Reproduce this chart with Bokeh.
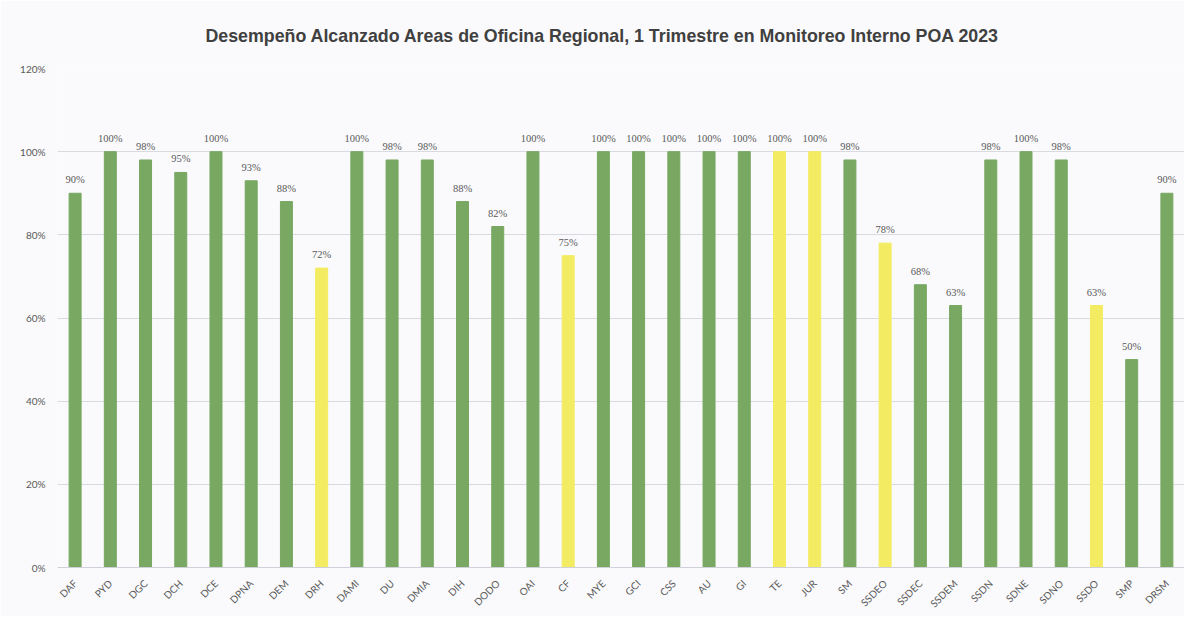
import math
from bokeh.plotting import figure
from bokeh.models import ColumnDataSource, FactorRange, NumeralTickFormatter, LabelSet, Range1d, FixedTicker
from bokeh.embed import file_html
from bokeh.resources import INLINE

areas = ["DAF", "PYD", "DGC", "DCH", "DCE", "DPNA", "DEM", "DRH", "DAMI", "DU", "DMIA",
         "DIH", "DODO", "OAI", "CF", "MYE", "GCI", "CSS", "AU", "GI", "TE", "JUR", "SM",
         "SSDEO", "SSDEC", "SSDEM", "SSDN", "SDNE", "SDNO", "SSDO", "SMP", "DRSM"]
desempeno = [0.90, 1.00, 0.98, 0.95, 1.00, 0.93, 0.88, 0.72, 1.00, 0.98, 0.98,
             0.88, 0.82, 1.00, 0.75, 1.00, 1.00, 1.00, 1.00, 1.00, 1.00, 1.00, 0.98,
             0.78, 0.68, 0.63, 0.98, 1.00, 0.98, 0.63, 0.50, 0.90]
resaltadas = ["DRH", "CF", "TE", "JUR", "SSDEO", "SSDO"]

GREEN = "#78a862"
YELLOW = "#f3ec62"
colors = [YELLOW if a in resaltadas else GREEN for a in areas]
labels = ["{:.0f}%".format(v * 100) for v in desempeno]

src = ColumnDataSource(dict(x=areas, top=desempeno, color=colors, label=labels))

p = figure(x_range=FactorRange(*areas, range_padding=0), y_range=Range1d(0, 1.2),
           width=1184, height=616, output_backend="svg", toolbar_location=None,
           min_border_left=57, min_border_right=0, min_border_top=68, min_border_bottom=48,
           background_fill_color="#fafafc", border_fill_color="#fafafc")

p.vbar(x="x", top="top", width=0.34, color="color", source=src)

p.add_layout(LabelSet(x="x", y="top", text="label", source=src, x_offset=0, y_offset=8,
                      text_align="center", text_baseline="bottom", text_font="Lato",
                      text_font_size="10.5px", text_color="#595959"))

p.title.text = "Desempeño Alcanzado Areas de Oficina Regional, 1 Trimestre en Monitoreo Interno POA 2023"
p.title.align = "left"
p.title.offset = 148
p.title.text_font = "Liberation Sans"
p.title.text_font_size = "17.8px"
p.title.text_font_style = "bold"
p.title.text_color = "#404040"
p.title.standoff = 46

p.yaxis.ticker = FixedTicker(ticks=[0, 0.2, 0.4, 0.6, 0.8, 1.0, 1.2])
p.yaxis.formatter = NumeralTickFormatter(format="0%")
p.yaxis.axis_line_color = None
p.yaxis.major_tick_line_color = None
p.yaxis.minor_tick_line_color = None
p.yaxis.major_label_text_font = "Lato"
p.yaxis.major_label_text_font_size = "10px"
p.yaxis.major_label_text_color = "#595959"
p.yaxis.major_label_standoff = 6

p.xaxis.axis_line_color = "#d0d0d8"
p.xaxis.major_tick_line_color = None
p.xaxis.major_label_orientation = math.pi / 4
p.xaxis.major_label_text_font = "Lato"
p.xaxis.major_label_text_font_size = "10px"
p.xaxis.major_label_text_color = "#595959"
p.xaxis.major_label_standoff = 8

p.xgrid.grid_line_color = None
p.ygrid.grid_line_color = "#d9d9e0"
p.outline_line_color = None

open("out.html", "w").write(file_html(p, INLINE))
